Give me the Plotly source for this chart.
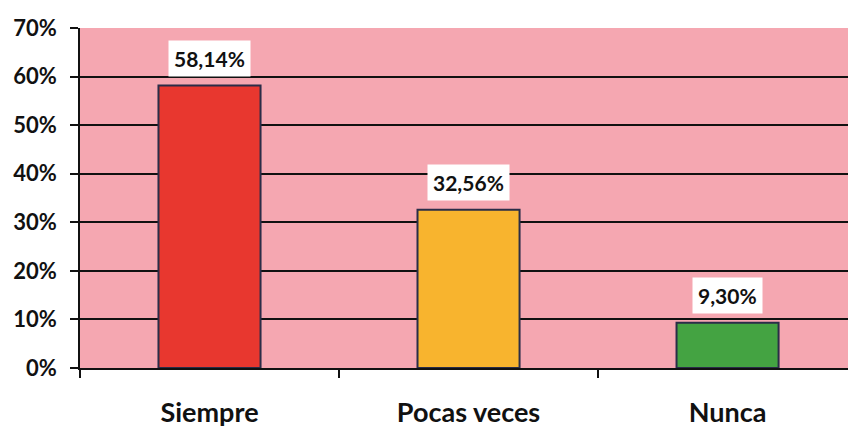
import plotly.graph_objects as go

categories = ["Siempre", "Pocas veces", "Nunca"]
values = [58.14, 32.56, 9.30]
labels = ["58,14%", "32,56%", "9,30%"]
colors = ["#E8372F", "#F8B42E", "#44A342"]
y_ticks = [0, 10, 20, 30, 40, 50, 60, 70]
y_tick_labels = ["0%", "10%", "20%", "30%", "40%", "50%", "60%", "70%"]

FONT = "Lato"

fig = go.Figure()
fig.add_trace(go.Bar(
    x=categories, y=values,
    marker=dict(color=colors, line=dict(color="#2A2D48", width=2)),
    width=0.394,
    hoverinfo="skip",
))

for c, v, t in zip(categories, values, labels):
    fig.add_annotation(
        x=c, y=v, text=f"<b>{t}</b>", showarrow=False,
        yanchor="bottom", yshift=9,
        bgcolor="white", borderpad=5,
        font=dict(family=FONT, size=21, color="#111111"),
    )

fig.update_layout(
    width=848, height=428,
    margin=dict(l=80, r=0, t=28, b=60),
    paper_bgcolor="white",
    plot_bgcolor="#F5A7B1",
    showlegend=False,
    font=dict(family=FONT, color="#111111"),
    xaxis=dict(
        range=[-0.5, 2.465],
        automargin=False,
        tickson="boundaries",
        ticks="outside", ticklen=8, tickcolor="#111111", tickwidth=1.5,
        showline=True, linecolor="#111111", linewidth=1.5,
        showgrid=False,
        tickfont=dict(family=FONT, size=27, color="#111111"),
        ticklabelstandoff=20,
        tickprefix="<b>", ticksuffix="</b>",
    ),
    yaxis=dict(
        range=[0, 70],
        automargin=False,
        tickvals=y_ticks, ticktext=[f"<b>{s}</b>" for s in y_tick_labels],
        ticks="outside", ticklen=8, tickcolor="#111111", tickwidth=1.5,
        showline=True, linecolor="#111111", linewidth=1.5,
        showgrid=True, gridcolor="#111111", gridwidth=1.5,
        zeroline=False,
        tickfont=dict(family=FONT, size=22, color="#111111"),
        ticklabelstandoff=9,
    ),
)

fig.write_html(
    "out.html",
    config={"responsive": False, "displayModeBar": False},
    post_script="document.body.style.margin='0';document.body.style.overflow='hidden';",
)
